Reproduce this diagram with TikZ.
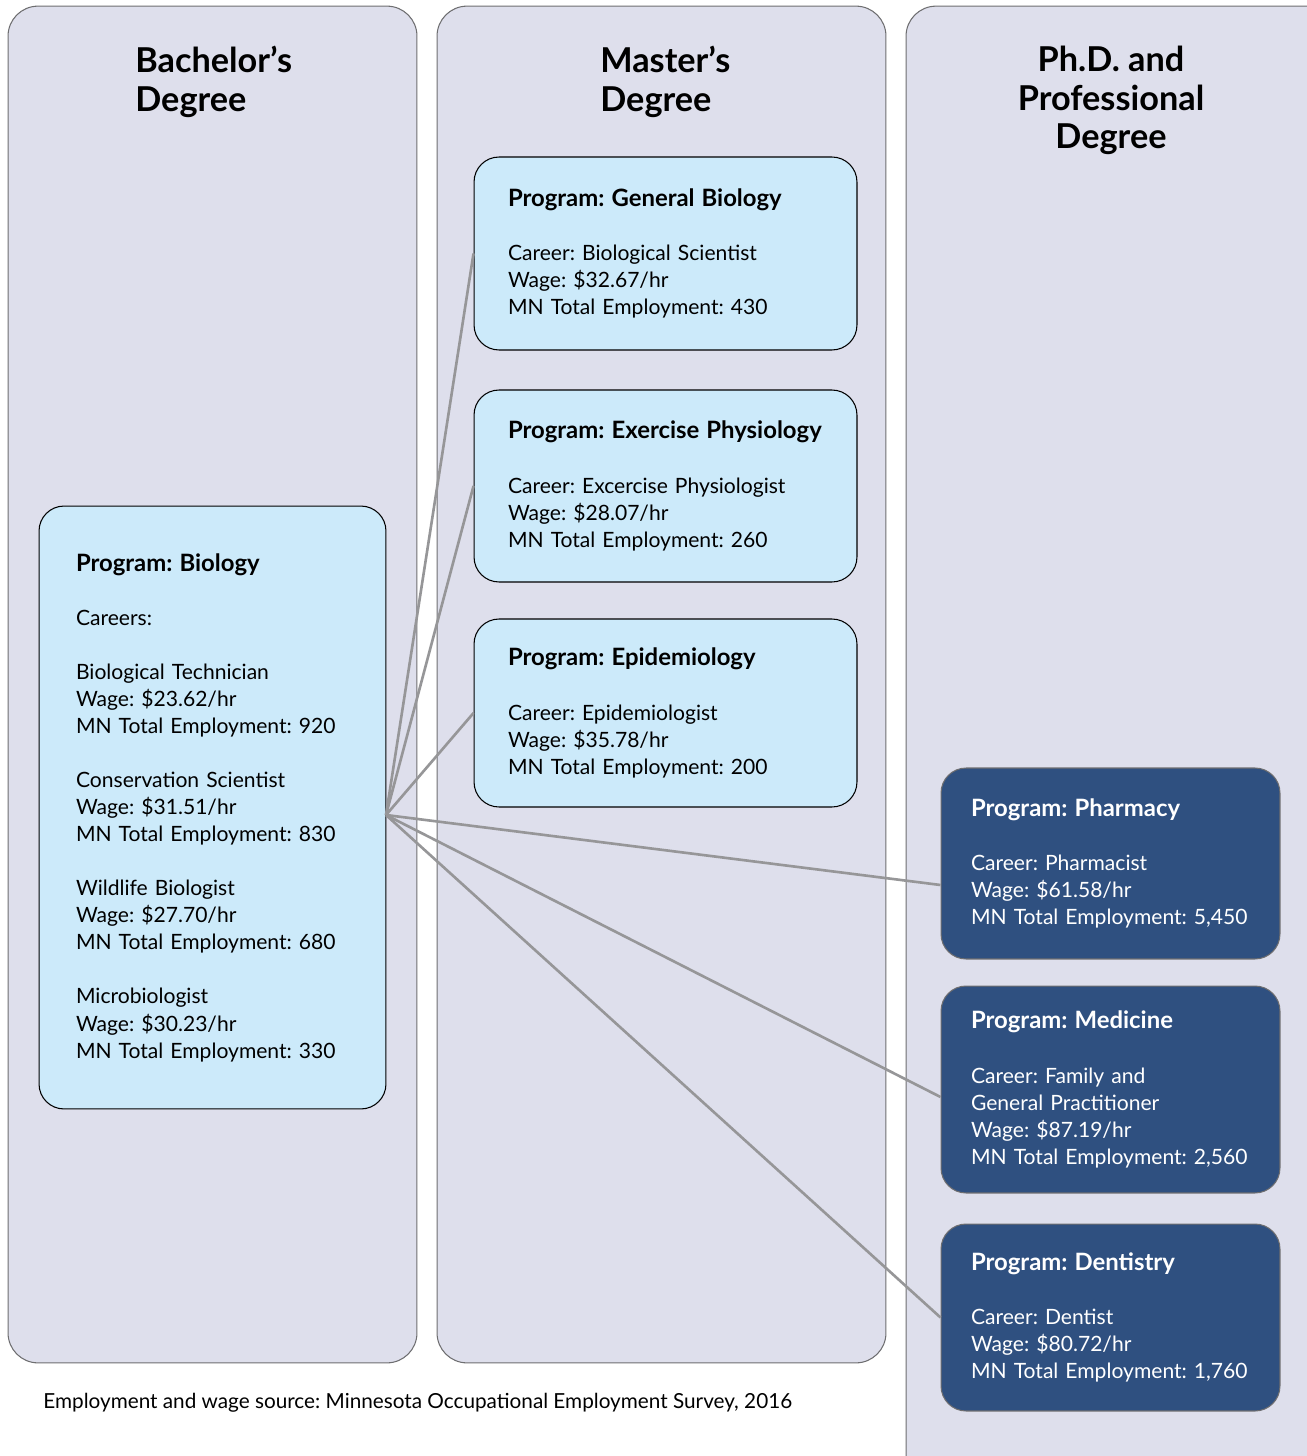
\documentclass[tikz,border=0pt]{standalone}
\usepackage{fontspec}
\setmainfont{Lato}
\frenchspacing
\usetikzlibrary{positioning}
\definecolor{colbg}{RGB}{222,223,236}
\definecolor{colline}{RGB}{110,110,112}
\definecolor{progbg}{RGB}{204,234,250}
\definecolor{phdbg}{RGB}{47,80,128}
\definecolor{linkgray}{RGB}{150,150,152}
\tikzset{
    column/.style = {rectangle, draw=colline, fill=colbg, rounded corners=0.6cm, line width=0.6pt},
    degree/.style = {inner sep=0pt, font=\fontsize{19.5}{21.8}\selectfont\bfseries},
    prog/.style = {rectangle, rounded corners=0.5cm, draw=black, line width=0.6pt, fill=progbg, align=left, inner ysep=0.2cm, font=\fontsize{12}{15.4}\selectfont},
    bachbox/.style = {prog, minimum width=6.94cm, inner xsep=0.74cm, text width=5.46cm},
    mastbox/.style = {prog, minimum width=7.66cm, inner xsep=0.68cm, text width=6.3cm},
    phdbox/.style = {prog, draw=colline, fill=phdbg, text=white, minimum width=6.78cm, inner xsep=0.6cm, text width=5.58cm},
    link/.style = {draw=linkgray, line width=1.5pt},
    note/.style = {inner sep=0pt, font=\fontsize{11.8}{15}\selectfont}
}
\newcommand{\gap}{\\[15.4pt]}
\newcommand{\prg}[1]{{\fontsize{13.6}{15.4}\selectfont\bfseries Program: #1}}

\begin{document}
\begin{tikzpicture}[x=0.02cm, y=-0.02cm]
  \useasboundingbox (0,0) rectangle (1307,1456);
  \clip (0,0) rectangle (1307,1456);

  % degree columns
  \node[column, minimum width=8.18cm, minimum height=27.14cm] (bach) at (212.5,684.5) {};
  \node[column, minimum width=8.98cm, minimum height=27.14cm] (mast) at (661.5,684.5) {};
  \node[column, minimum width=8.68cm, minimum height=29.68cm] (phd) at (1123,748) {};

  \node[degree, anchor=north west, align=left] (bachtitle) at (135,46) {Bachelor’s\\Degree};
  \node[degree, anchor=north west, align=left] (masttitle) at (600,46) {Master’s\\Degree};
  \node[degree, anchor=north, align=center] (phdtitle) at (1111,46) {Ph.D. and\\Professional\\Degree};

  % bachelor
  \node[bachbox, minimum height=12.06cm] (bio) at (212.5,807.5) {\prg{Biology}\gap
    Careers:\gap
    Biological Technician\\Wage: \$23.62/hr\\MN Total Employment: 920\gap
    Conservation Scientist\\Wage: \$31.51/hr\\MN Total Employment: 830\gap
    Wildlife Biologist\\Wage: \$27.70/hr\\MN Total Employment: 680\gap
    Microbiologist\\Wage: \$30.23/hr\\MN Total Employment: 330};

  % master
  \node[mastbox, minimum height=3.86cm] (genbio) at (665.5,253.5) {\prg{General Biology}\gap
    Career: Biological Scientist\\Wage: \$32.67/hr\\MN Total Employment: 430};
  \node[mastbox, minimum height=3.84cm] (exphys) at (665.5,486) {\prg{Exercise Physiology}\gap
    Career: Excercise Physiologist\\Wage: \$28.07/hr\\MN Total Employment: 260};
  \node[mastbox, minimum height=3.76cm] (epid) at (665.5,713) {\prg{Epidemiology}\gap
    Career: Epidemiologist\\Wage: \$35.78/hr\\MN Total Employment: 200};

  % phd / professional
  \node[phdbox, minimum height=3.82cm] (pharm) at (1110.5,863.5) {\prg{Pharmacy}\gap
    Career: Pharmacist\\Wage: \$61.58/hr\\MN Total Employment: 5,450};
  \node[phdbox, minimum height=4.14cm] (med) at (1110.5,1089.5) {\prg{Medicine}\gap
    Career: Family and\\General Practitioner\\Wage: \$87.19/hr\\MN Total Employment: 2,560};
  \node[phdbox, minimum height=3.74cm] (dent) at (1110.5,1317.5) {\prg{Dentistry}\gap
    Career: Dentist\\Wage: \$80.72/hr\\MN Total Employment: 1,760};

  % links
  \coordinate (hub) at (386,815);
  \draw[link] (hub) -- (genbio.west);
  \draw[link] (hub) -- (exphys.west);
  \draw[link] (hub) -- (epid.west);
  \draw[link] (hub) -- ([yshift=-0.43cm]pharm.west);
  \draw[link] (hub) -- ([yshift=-0.15cm]med.west);
  \draw[link] (hub) -- (dent.west);

  \node[note, anchor=west] (source) at (43,1403) {Employment and wage source: Minnesota Occupational Employment Survey, 2016};
\end{tikzpicture}
\end{document}
